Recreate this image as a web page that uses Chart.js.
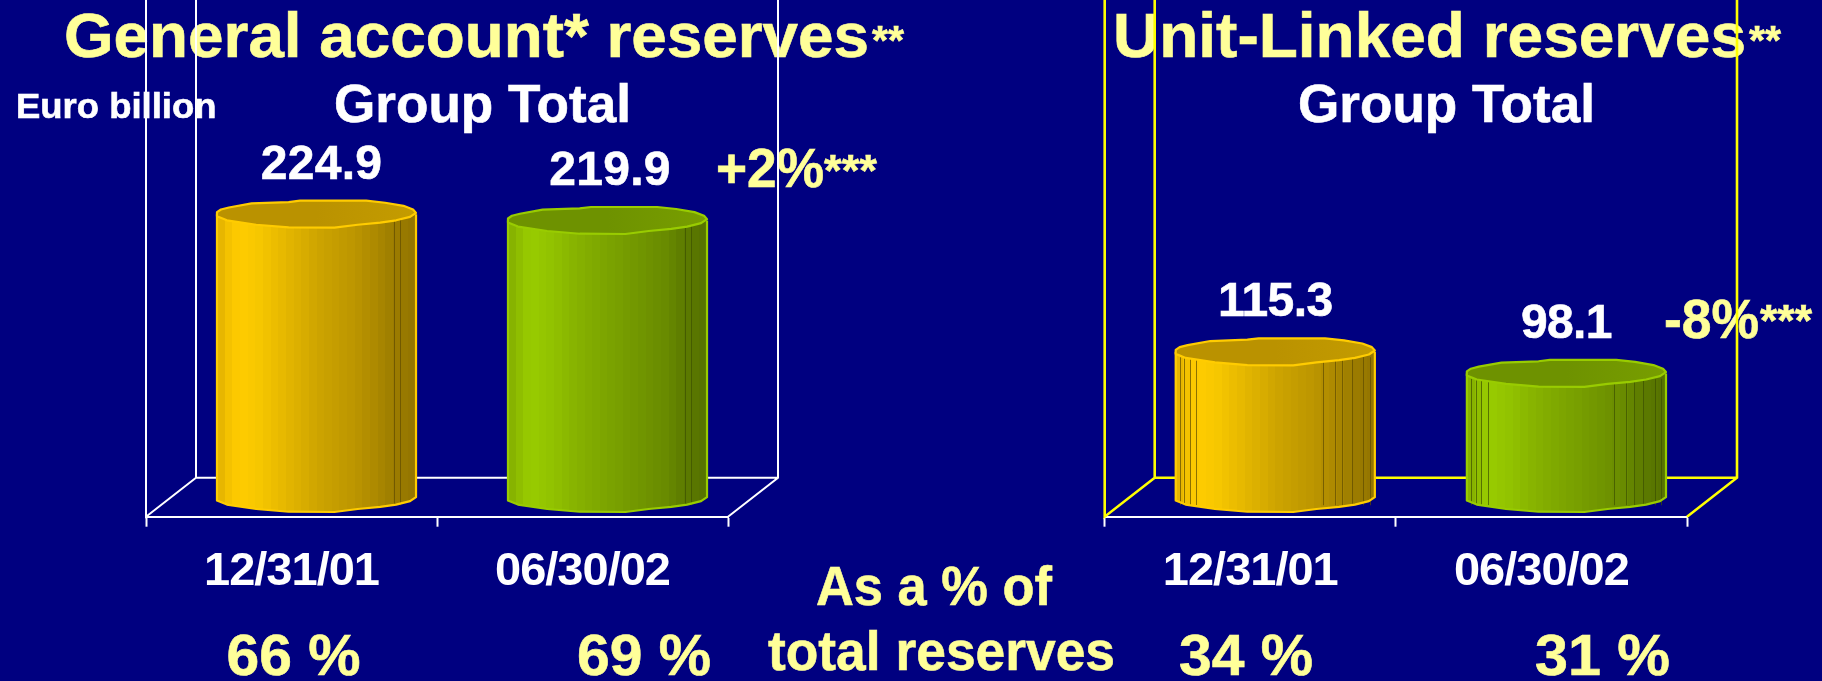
<!DOCTYPE html>
<html>
<head>
<meta charset="utf-8">
<script src="https://cdn.jsdelivr.net/npm/chart.js@4"></script>
<style>
html,body{margin:0;padding:0;background:#000080;width:1822px;height:681px;overflow:hidden}
canvas{position:absolute;left:0;top:0}
</style>
</head>
<body>
<canvas id="left" width="1822" height="681"></canvas>
<canvas id="right" width="1822" height="681"></canvas>
<script>
// ---- data ----
const categories = ['12/31/01', '06/30/02'];
const generalValues = [224.9, 219.9];
const unitLinkedValues = [115.3, 98.1];
const generalShares = ['66 %', '69 %'];
const unitLinkedShares = ['34 %', '31 %'];
const generalChange = '+2%';
const unitLinkedChange = '-8%';
const generalTitle = 'General account* reserves';
const unitLinkedTitle = 'Unit-Linked reserves';
const subTitle = 'Group Total';
const unitLabel = 'Euro billion';
const sideNote = ['As a % of', 'total reserves'];

// ---- style ----
const FONT = '"Liberation Sans", Arial, sans-serif';
const WHITE = '#FFFFFF', CREAM = '#FFFF99', FRAME_YELLOW = '#FFFF00';
const DEPTH_X = 50, DEPTH_Y = 39, SHIFT = 25, RY = 13.5;
const Y_MIN = -16, Y_MAX = 395.5, BAR_BASE = -1.5;
const orangeRamp = [[0,'#E0B000'],[.05,'#F2C000'],[.11,'#FFCC00'],[.2,'#F8C800'],[.36,'#E2B500'],[.52,'#CCA300'],[.68,'#BD9600'],[.8,'#AC8900'],[.89,'#9C7C00'],[1,'#937500']];
const greenRamp = [[0,'#82AD00'],[.05,'#8EBC00'],[.11,'#99CC00'],[.2,'#93C400'],[.36,'#85B000'],[.52,'#7AA200'],[.68,'#709400'],[.8,'#688A00'],[.89,'#5C7A00'],[1,'#567200']];
const seriesStyle = [
  {ramp: orangeRamp, top: ['#BA9200', '#C49C00'], edge: '#FFCC00', facet: 'rgba(96,76,0,0.7)'},
  {ramp: greenRamp, top: ['#6E9200', '#789E00'], edge: '#99CC00', facet: 'rgba(60,80,0,0.7)'}
];
// outline of a slightly faceted ellipse, as in the picture (t across, s up/down)
const upperEdge = [[0,-.15],[.02,-.35],[.06,-.5],[.174,-.8],[.36,-.9],[.417,-1],[.75,-1],[.845,-.85],[.937,-.62],[.985,-.35],[1,-.1]];
const lowerEdge = [[1,-.1],[.97,.2],[.9,.45],[.82,.62],[.707,.78],[.59,1],[.36,.98],[.197,.78],[.05,.45],[0,.15]];

function hex(c){return [1,3,5].map(i=>parseInt(c.substr(i,2),16));}
function rampAt(ramp,t){
  for(let i=1;i<ramp.length;i++){
    if(t<=ramp[i][0]){
      const a=ramp[i-1],b=ramp[i],f=(t-a[0])/(b[0]-a[0]);
      const ca=hex(a[1]),cb=hex(b[1]);
      return 'rgb('+ca.map((v,k)=>Math.round(v+(cb[k]-v)*f)).join(',')+')';
    }
  }
  return ramp[ramp.length-1][1];
}
function bandGradient(ctx,x0,x1,ramp){
  const g=ctx.createLinearGradient(x0,0,x1,0), n=26;
  for(let i=0;i<n;i++){
    const c=rampAt(ramp,(i+.5)/n);
    g.addColorStop(i/n,c); g.addColorStop((i+1)/n,c);
  }
  return g;
}
function trace(ctx,pts,x0,w,cy){
  pts.forEach(p=>ctx.lineTo(x0+p[0]*w,cy+p[1]*RY));
}
function fitText(ctx,text,x0,x1,baseline,size,color){
  ctx.save();
  ctx.letterSpacing='0px';
  ctx.font='bold '+size+'px '+FONT;
  ctx.fillStyle=color;
  ctx.strokeStyle=color;
  ctx.lineWidth=.6;
  ctx.textAlign='left';
  ctx.textBaseline='alphabetic';
  const w=ctx.measureText(text).width;
  ctx.translate(x0,baseline);
  ctx.scale((x1-x0)/w,1);
  ctx.fillText(text,0,0);
  ctx.strokeText(text,0,0);
  ctx.restore();
}

const cylinders = {
  id:'cylinders',
  beforeDraw(chart){
    chart.ctx.letterSpacing='-1px';
  },
  beforeDatasetsDraw(chart,args,opts){
    const ctx=chart.ctx, a=chart.chartArea;
    // static text sits beneath the frame lines
    (opts.texts||[]).forEach(t=>fitText(ctx,t[0],t[1],t[2],t[3],t[4],t[5]));
    ctx.save();
    ctx.strokeStyle=opts.frame; ctx.lineWidth=opts.frameWidth; ctx.lineJoin='miter';
    ctx.beginPath();
    ctx.moveTo(a.left,0); ctx.lineTo(a.left,a.bottom);
    ctx.lineTo(a.left+DEPTH_X,a.bottom-DEPTH_Y);
    ctx.moveTo(a.left+DEPTH_X,0); ctx.lineTo(a.left+DEPTH_X,a.bottom-DEPTH_Y);
    ctx.lineTo(a.right+DEPTH_X,a.bottom-DEPTH_Y);
    ctx.moveTo(a.right+DEPTH_X,0); ctx.lineTo(a.right+DEPTH_X,a.bottom-DEPTH_Y);
    ctx.lineTo(a.right,a.bottom);
    ctx.stroke();
    ctx.restore();
  },
  afterDatasetsDraw(chart,args,opts){
    const ctx=chart.ctx;
    chart.getDatasetMeta(0).data.forEach((el,i)=>{
      const st=seriesStyle[i], x0=el.x-el.width/2+SHIFT, w=el.width, yTop=el.y, yBase=el.base;
      ctx.save();
      ctx.lineJoin='round';
      // body
      ctx.beginPath();
      ctx.moveTo(x0,yTop);
      trace(ctx,[...lowerEdge].reverse(),x0,w,yBase);
      ctx.lineTo(x0+w,yTop);
      ctx.closePath();
      ctx.fillStyle=bandGradient(ctx,x0,x0+w,st.ramp);
      ctx.fill();
      // facet lines
      ctx.lineWidth=1; ctx.strokeStyle=st.facet;
      opts.facets.forEach(t=>{
        const fx=Math.round(x0+t*w)+.5;
        ctx.beginPath(); ctx.moveTo(fx,yTop+RY*.4); ctx.lineTo(fx,yBase+RY*.5); ctx.stroke();
      });
      ctx.lineWidth=2.2; ctx.strokeStyle=st.edge;
      ctx.beginPath();
      ctx.moveTo(x0,yTop);
      trace(ctx,[...lowerEdge].reverse(),x0,w,yBase);
      ctx.lineTo(x0+w,yTop);
      ctx.stroke();
      // top cap
      ctx.beginPath();
      ctx.moveTo(x0,yTop);
      trace(ctx,upperEdge,x0,w,yTop);
      trace(ctx,lowerEdge,x0,w,yTop);
      ctx.closePath();
      const g=ctx.createLinearGradient(x0,0,x0+w,0);
      g.addColorStop(0,st.top[0]); g.addColorStop(.5,st.top[0]); g.addColorStop(1,st.top[1]);
      ctx.fillStyle=g; ctx.fill(); ctx.stroke();
      ctx.restore();
      // value label
      const value=chart.data.datasets[0].data[i];
      ctx.save();
      ctx.letterSpacing=opts.labelSpacing;
      ctx.font='bold 48px '+FONT; ctx.fillStyle=WHITE; ctx.strokeStyle=WHITE; ctx.lineWidth=.6;
      ctx.textAlign='center'; ctx.textBaseline='alphabetic';
      const lx=el.x+SHIFT+opts.labelNudge[i], ly=yTop-35.5;
      ctx.fillText(value.toFixed(1),lx,ly);
      ctx.strokeText(value.toFixed(1),lx,ly);
      ctx.restore();
    });
  }
};

function makeChart(id,values,leftPx,rightPx,opts){
  return new Chart(document.getElementById(id),{
    type:'bar',
    data:{labels:categories,datasets:[{
      data:values,
      base:BAR_BASE,
      backgroundColor:'rgba(0,0,0,0)',
      borderWidth:0,
      barPercentage:.684,
      categoryPercentage:1
    }]},
    plugins:[cylinders],
    options:{
      responsive:false,animation:false,
      layout:{padding:{left:leftPx,right:1822-rightPx,top:0,bottom:0}},
      plugins:{legend:{display:false},tooltip:{enabled:false},title:{display:false},cylinders:opts},
      scales:{
        y:{display:false,min:Y_MIN,max:Y_MAX},
        x:{
          afterFit(s){s.height=681-516.7;},
          border:{display:true,color:WHITE,width:2},
          grid:{display:true,offset:true,drawOnChartArea:false,drawTicks:true,tickLength:10,tickWidth:2,tickColor:WHITE,color:WHITE},
          ticks:{color:WHITE,font:{family:FONT,weight:'bold',size:47},padding:17,autoSkip:false,maxRotation:0,minRotation:0}
        }
      }
    }
  });
}

makeChart('left',generalValues,146,728,{
  frame:WHITE,
  frameWidth:2,
  facets:[.888,.918],
  labelNudge:[5,2.5],
  labelSpacing:'0.3px',
  texts:[
    [generalTitle,64,869,56.5,63,CREAM],
    ['**',872,904,54,41,CREAM],
    [unitLabel,16,216.5,118,35,WHITE],
    [subTitle,334,631,122,54,WHITE],
    [generalChange,716,824,187,55,CREAM],
    ['***',824,877,186,45,CREAM],
    [sideNote[0],816,1052,605,55,CREAM],
    [sideNote[1],768,1115,670,55,CREAM],
    [generalShares[0],226.5,360.5,675,58,CREAM],
    [generalShares[1],577,711,675,58,CREAM]
  ]
});
makeChart('right',unitLinkedValues,1104.7,1687,{
  frame:FRAME_YELLOW,
  frameWidth:2.6,
  facets:[.023,.044,.072,.104,.738,.80,.837,.886,.943,.975],
  labelNudge:[0,0],
  labelSpacing:'-0.6px',
  texts:[
    [unitLinkedTitle,1113,1746,56.5,63,CREAM],
    ['**',1749,1781,54,41,CREAM],
    [subTitle,1298,1595,122,54,WHITE],
    [unitLinkedChange,1664,1759,337.5,55,CREAM],
    ['***',1760,1812,336,45,CREAM],
    [unitLinkedShares[0],1179,1313,675,58,CREAM],
    [unitLinkedShares[1],1535,1670,675,58,CREAM]
  ]
});
</script>
</body>
</html>
